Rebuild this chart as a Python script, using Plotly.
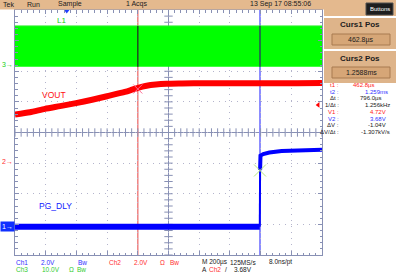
import plotly.graph_objects as go
import numpy as np

# ---------------- data ----------------
time_per_div_us = 200.0
cursor1_us = 462.8
cursor2_us = 1258.8
trigger_time_us = 0.0
t_left_us = -337.2
t_right_us = 1662.8

# channel scales (V/div) and ground offsets (div from screen centre)
ch1_vdiv, ch1_gnd_div = 2.0, -3.08   # PG_DLY (blue)
ch2_vdiv, ch2_gnd_div = 2.0, -0.94   # VOUT (red)
ch3_vdiv, ch3_gnd_div = 10.0, 2.21   # L1 (green)

vout_t = [-337.2, -240, -142, -44, 60, 165, 262, 360, 420, 464, 520, 580, 650, 750, 900, 1100, 1300, 1500, 1662.8]
vout_v = [3.05, 3.2, 3.42, 3.6, 3.8, 4.02, 4.25, 4.48, 4.66, 4.8, 4.93, 5.01, 5.06, 5.08, 5.1, 5.1, 5.1, 5.1, 5.12]

pg_t = [-337.2, 1257.5, 1258.5, 1259.5, 1262, 1280, 1320, 1400, 1500, 1600, 1662.8]
pg_v = [0.0, 0.0, 1.8, 3.7, 4.65, 4.75, 4.85, 4.95, 5.0, 5.02, 5.03]

l1_t = [-337.2, 1662.8]
l1_high = [12.7, 12.7]
l1_low = [-0.6, -0.6]

v1_cursor = 4.72
v2_cursor = 3.68
trigger_level = 3.68

readout_labels = ["t1 :", "t2 :", "\u0394t :", "1/\u0394t :", "V1 :", "V2 :", "\u0394V :", "\u0394V/\u0394t :"]
readout_values = ["462.8\u00b5s", "1.259ms", "796.0\u00b5s", "1.256kHz", "4.72V", "3.68V", "-1.04V", "-1.307kV/s"]
readout_colors = ["#ff2020", "#3030ff", "#202020", "#202020", "#ff2020", "#3030ff", "#202020", "#202020"]

curs1_text = "462.8\u00b5s"
curs2_text = "1.2588ms"

# ---------------- geometry helpers ----------------
W, H = 396, 280
L, R, T, B = 15, 322, 10, 255
def px(x):
    return (x - L) / (R - L)
def py(y):
    return (B - y) / (B - T)

def ch_range(vdiv, gnd):
    return [(-4 - gnd) * vdiv, (4 - gnd) * vdiv]

FONT = "Liberation Sans, Arial, sans-serif"
GRID = "#b4b4cc"
BORDER = "#8890b4"
RED = "#ff0000"
BLUE = "#0000ff"
GREEN = "#00ff00"

fig = go.Figure()

# L1 band (green)
fig.add_trace(go.Scatter(x=l1_t, y=l1_low, yaxis="y4", mode="lines",
                         line=dict(width=0, color=GREEN), showlegend=False, hoverinfo="skip"))
fig.add_trace(go.Scatter(x=l1_t, y=l1_high, yaxis="y4", mode="lines", fill="tonexty",
                         fillcolor=GREEN, line=dict(width=1, color="#30f030"),
                         showlegend=False, hoverinfo="skip"))

# VOUT (red)
fig.add_trace(go.Scatter(x=vout_t, y=vout_v, yaxis="y3", mode="lines", line_shape="spline",
                         line=dict(width=6, color=RED, smoothing=0.6), showlegend=False))

# PG_DLY (blue): thick low segment, thinner edge and high part
split = 2
fig.add_trace(go.Scatter(x=pg_t[:split], y=pg_v[:split], yaxis="y2", mode="lines",
                         line=dict(width=6, color=BLUE), showlegend=False))
fig.add_trace(go.Scatter(x=pg_t[split - 1:split + 2], y=pg_v[split - 1:split + 2], yaxis="y2", mode="lines",
                         line=dict(width=2, color=BLUE), showlegend=False))
fig.add_trace(go.Scatter(x=pg_t[split + 1:], y=pg_v[split + 1:], yaxis="y2", mode="lines",
                         line=dict(width=4, color=BLUE), showlegend=False))

# cursor intersection markers
fig.add_trace(go.Scatter(x=[cursor1_us], y=[v1_cursor], yaxis="y3", mode="markers",
                         marker=dict(symbol="x-thin-open", size=9, line=dict(width=1, color="#ff8080")),
                         showlegend=False))
fig.add_trace(go.Scatter(x=[cursor2_us], y=[v2_cursor], yaxis="y2", mode="markers",
                         marker=dict(symbol="x-thin-open", size=12, line=dict(width=1, color="#7070ff")),
                         showlegend=False))

# centre crosshair ticks
minor_t = np.arange(t_left_us, t_right_us + 1e-6, time_per_div_us / 5)
minor_d = np.arange(-4, 4.0001, 0.2)
centre_t = (t_left_us + t_right_us) / 2
fig.add_trace(go.Scatter(x=minor_t, y=np.zeros_like(minor_t), mode="markers",
                         marker=dict(symbol="line-ns", size=6, line=dict(width=1, color=BORDER)),
                         showlegend=False, hoverinfo="skip"))
fig.add_trace(go.Scatter(x=np.full_like(minor_d, centre_t), y=minor_d, mode="markers",
                         marker=dict(symbol="line-ew", size=6, line=dict(width=1, color=BORDER)),
                         showlegend=False, hoverinfo="skip"))

# trigger position marker (top) and trigger level marker (right)
fig.add_trace(go.Scatter(x=[trigger_time_us], y=[4], mode="markers", cliponaxis=False,
                         marker=dict(symbol="triangle-down", size=7, color="#2040ff"),
                         showlegend=False, hoverinfo="skip"))
fig.add_trace(go.Scatter(x=[t_right_us - 25], y=[trigger_level], yaxis="y3", mode="markers",
                         cliponaxis=False,
                         marker=dict(symbol="triangle-left", size=5, color=RED),
                         showlegend=False, hoverinfo="skip"))

shapes = []
# centre lines
shapes.append(dict(type="line", xref="x", yref="paper", x0=centre_t, x1=centre_t, y0=0, y1=1,
                   line=dict(color=BORDER, width=1), layer="between"))
shapes.append(dict(type="line", xref="paper", yref="y", x0=0, x1=1, y0=0, y1=0,
                   line=dict(color=BORDER, width=1), layer="between"))
# cursors
shapes.append(dict(type="line", xref="x", yref="paper", x0=cursor1_us, x1=cursor1_us, y0=0, y1=1,
                   line=dict(color="#f08080", width=1.5), layer="between"))
shapes.append(dict(type="line", xref="x", yref="paper", x0=cursor2_us, x1=cursor2_us, y0=0, y1=1,
                   line=dict(color="#8c8cff", width=2), layer="between"))
# cursors seen through the green band
shapes.append(dict(type="line", xref="x", yref="y4", x0=cursor1_us, x1=cursor1_us,
                   y0=l1_low[0], y1=l1_high[0], line=dict(color="#204a20", width=1.5), layer="above"))
shapes.append(dict(type="line", xref="x", yref="y4", x0=cursor2_us, x1=cursor2_us,
                   y0=l1_low[0], y1=l1_high[0], line=dict(color="#1a7a40", width=2), layer="above"))

TAN = "#e4b98e"
# top status bar
shapes.append(dict(type="rect", xref="paper", yref="paper", x0=px(0), x1=px(396), y0=py(9.5), y1=py(0),
                   fillcolor=TAN, line=dict(width=0), layer="above"))
shapes.append(dict(type="rect", xref="paper", yref="paper", x0=px(324), x1=px(396), y0=py(16), y1=py(0),
                   fillcolor=TAN, line=dict(width=0), layer="above"))
# Buttons pill
shapes.append(dict(type="rect", xref="paper", yref="paper", x0=px(366), x1=px(393), y0=py(15), y1=py(3),
                   fillcolor="#1e1e1e", line=dict(width=1, color="#505050"), layer="above"))
# cursor panels
for (y0, y1, vy0, vy1) in [(18, 49, 34, 45), (51, 83, 67, 78)]:
    shapes.append(dict(type="rect", xref="paper", yref="paper", x0=px(324), x1=px(396), y0=py(y1), y1=py(y0),
                       fillcolor="#deb48a", line=dict(width=0), layer="above"))
    shapes.append(dict(type="rect", xref="paper", yref="paper", x0=px(332), x1=px(390), y0=py(vy1), y1=py(vy0),
                       fillcolor="#d6a677", line=dict(width=1, color="#a87a50"), layer="above"))

annotations = []
def txt(x, y, s, color="#202020", size=7, anchor="left", bold=False, **kw):
    if bold:
        s = "<b>" + s + "</b>"
    annotations.append(dict(x=px(x), y=py(y), xref="paper", yref="paper", text=s, showarrow=False,
                            xanchor=anchor, yanchor="middle",
                            font=dict(family=FONT, size=size, color=color), **kw))

# top bar text
txt(1, 4.5, "Tek", size=7)
txt(25, 4.5, "Run", size=7)
txt(56, 4.5, "Sample", size=7)
txt(124, 4.5, "1 Acqs", size=7)
txt(248, 4.5, "13 Sep 17 08:55:06", size=7)
txt(379.5, 9, "Buttons", color="white", size=6, anchor="center")

# cursor panels text
txt(360, 25, "Curs1 Pos", size=8, anchor="center", bold=True)
txt(361, 40, curs1_text, size=7, anchor="center")
txt(360, 58, "Curs2 Pos", size=8, anchor="center", bold=True)
txt(361, 72.5, curs2_text, size=7, anchor="center")

# readouts
readout_y = [85, 91.7, 98.4, 105.1, 111.8, 118.5, 125.2, 131.9]
readout_end = [376, 390, 383, 392, 388, 388, 388, 392]
for lab, val, col, yy, xe in zip(readout_labels, readout_values, readout_colors, readout_y, readout_end):
    txt(341, yy, lab, color=col, size=6, anchor="right")
    txt(xe, yy, val, color=col, size=6, anchor="right")

# waveform labels
txt(55, 20, "L1", color="#10d010", size=8)
txt(40, 95, "VOUT", color="#ff1010", size=8.5)
txt(37, 205.5, "PG_DLY", color="#1020ff", size=8.5)

# bottom status lines
r1, r2 = 262, 269
txt(14, r1, "Ch1", color="#3030ff", size=6.5)
txt(39, r1, "2.0V", color="#3030ff", size=6.5)
txt(76, r1, "Bw", color="#3030ff", size=6.5)
txt(107, r1, "Ch2", color="#ff3030", size=6.5)
txt(132, r1, "2.0V", color="#ff3030", size=6.5)
txt(158, r1, "\u03a9", color="#ff3030", size=6.5)
txt(168, r1, "Bw", color="#ff3030", size=6.5)
txt(200, r1, "M 200\u00b5s", size=6.5)
txt(228, r1, "125MS/s", size=6.5)
txt(267, r1, "8.0ns/pt", size=6.5)
txt(14, r2, "Ch3", color="#30cc30", size=6.5)
txt(40, r2, "10.0V", color="#30cc30", size=6.5)
txt(67, r2, "\u03a9", color="#30cc30", size=6.5)
txt(75, r2, "Bw", color="#30cc30", size=6.5)
txt(200, r2, "A", size=6.5)
txt(207, r2, "Ch2", color="#ff3030", size=6.5)
txt(223, r2, "/", size=6.5)
txt(232, r2, "3.68V", size=6.5)

# ground markers tied to channel scales
annotations.append(dict(x=t_left_us, y=0, xref="x", yref="y4", text="3\u2192", showarrow=False,
                        xanchor="right", yanchor="middle", font=dict(family=FONT, size=7, color="#20d020")))
annotations.append(dict(x=t_left_us, y=0, xref="x", yref="y3", text="2\u2192", showarrow=False,
                        xanchor="right", yanchor="middle", font=dict(family=FONT, size=7, color="#ff3030")))
annotations.append(dict(x=t_left_us, y=0, xref="x", yref="y2", text="1\u2192", showarrow=False,
                        xanchor="right", yanchor="middle", bgcolor="#1030ff", borderpad=1,
                        font=dict(family=FONT, size=7, color="white")))

axis_common = dict(showline=True, linecolor=BORDER, linewidth=1, mirror="ticks",
                   ticks="inside", ticklen=4, tickcolor=BORDER, showticklabels=False,
                   zeroline=False, showgrid=True, gridcolor=GRID, griddash="1px,5px", gridwidth=1,
                   fixedrange=True)

fig.update_layout(
    width=W, height=H,
    margin=dict(l=L, r=W - R, t=T, b=H - B, pad=0),
    paper_bgcolor="white", plot_bgcolor="white",
    showlegend=False,
    xaxis=dict(range=[t_left_us, t_right_us], tick0=t_left_us, dtick=time_per_div_us,
               minor=dict(ticks="inside", dtick=time_per_div_us / 5, tick0=t_left_us, ticklen=2.5,
                          tickcolor=BORDER, showgrid=False),
               **axis_common),
    yaxis=dict(range=[-4, 4], tick0=0, dtick=1,
               minor=dict(ticks="inside", dtick=0.2, tick0=0, ticklen=2.5, tickcolor=BORDER, showgrid=False),
               **axis_common),
    yaxis2=dict(range=ch_range(ch1_vdiv, ch1_gnd_div), overlaying="y", visible=False, fixedrange=True),
    yaxis3=dict(range=ch_range(ch2_vdiv, ch2_gnd_div), overlaying="y", visible=False, fixedrange=True),
    yaxis4=dict(range=ch_range(ch3_vdiv, ch3_gnd_div), overlaying="y", visible=False, fixedrange=True),
    shapes=shapes,
    annotations=annotations,
)

fig.write_html("out.html", config={"displayModeBar": False})
